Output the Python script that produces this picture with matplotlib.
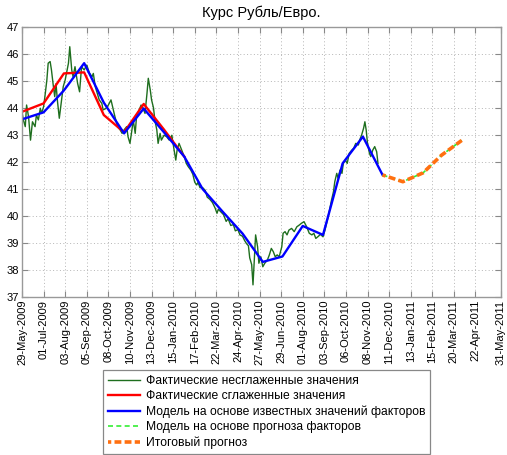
import matplotlib
matplotlib.use("Agg")
import matplotlib.pyplot as plt
import matplotlib.dates as mdates
import pandas as pd

plt.rcParams["font.family"] = ["Liberation Sans", "DejaVu Sans"]

# ---- data -----------------------------------------------------------------
start_date = "2009-05-29"
end_date = "2011-05-31"

# daily (unsmoothed) RUB/EUR rate, days counted from start_date
raw_days = [0, 2, 5, 7, 10, 13, 16, 20, 22, 25, 28, 30, 33, 35, 38, 40, 43, 45, 48, 50,
            52, 54, 57, 61, 63, 66, 68, 71, 73, 76, 78, 81, 85, 88, 91, 95, 99, 103, 107, 109,
            112, 115, 118, 122, 124, 128, 132, 136, 139, 142, 146, 150, 153, 156, 160, 162, 165, 168, 170, 173,
            175, 179, 182, 184, 188, 191, 193, 196, 198, 201, 203, 206, 208, 211, 213, 217, 221, 225, 229, 232,
            235, 237, 240, 244, 248, 251, 254, 258, 261, 264, 267, 269, 272, 276, 280, 283, 287, 291, 295, 298,
            300, 304, 308, 312, 315, 319, 323, 326, 330, 333, 337, 340, 343, 346, 348, 351, 353, 355, 357, 360,
            362, 365, 368, 371, 375, 378, 381, 384, 387, 390, 393, 397, 399, 402, 405, 408, 412, 416, 420, 424,
            427, 431, 435, 439, 443, 446, 449, 453, 456, 460, 463, 467, 470, 473, 476, 478, 481, 483, 486, 489,
            491, 494, 497, 500, 504, 507, 510, 514, 516, 519, 522, 524, 526, 528, 531, 533, 536, 539, 542, 544]
raw_values = [43.86, 43.56, 43.31, 44.11, 43.68, 42.81, 43.49, 43.31, 43.74, 43.56, 43.99, 43.80, 44.05, 44.42, 45.04, 45.66, 45.72, 45.41, 44.79, 44.42,
              44.90, 44.30, 43.62, 44.42, 44.79, 45.04, 45.29, 45.66, 46.27, 45.41, 45.16, 45.53, 44.91, 44.60, 45.53, 45.41, 45.59, 45.29, 45.16, 45.28,
              44.79, 44.54, 44.30, 44.17, 43.93, 43.98, 44.11, 44.30, 43.99, 43.68, 43.31, 43.19, 43.06, 43.19, 43.31, 42.94, 42.69, 43.19, 43.56, 43.06,
              43.68, 43.93, 44.11, 44.05, 43.80, 44.54, 45.10, 44.67, 44.30, 44.00, 43.56, 43.19, 42.69, 43.06, 42.81, 42.99, 42.94, 42.81, 42.99, 42.51,
              42.07, 42.44, 42.69, 42.44, 42.20, 41.95, 41.83, 41.70, 41.55, 41.25, 41.15, 41.25, 41.05, 41.05, 40.95, 40.70, 40.62, 40.50, 40.30, 40.10,
              40.25, 40.15, 40.05, 39.80, 39.90, 39.65, 39.68, 39.45, 39.50, 39.30, 39.25, 39.10, 38.98, 38.90, 38.45, 38.20, 37.45, 38.37, 39.30, 38.86,
              38.25, 38.49, 38.12, 38.25, 38.37, 38.56, 38.80, 38.68, 38.49, 38.56, 38.49, 38.86, 39.36, 39.42, 39.30, 39.48, 39.54, 39.42, 39.60, 39.67,
              39.73, 39.79, 39.60, 39.36, 39.30, 39.36, 39.17, 39.25, 39.32, 39.23, 39.48, 39.88, 40.22, 40.59, 40.90, 41.27, 41.58, 41.40, 41.70, 41.58,
              41.95, 42.07, 41.95, 42.32, 42.44, 42.51, 42.69, 42.63, 42.81, 43.00, 43.25, 43.49, 43.18, 42.69, 42.32, 42.20, 42.44, 42.57, 42.38, 41.95]

# monthly smoothed actual values
smooth_dates = ["2009-05-29", "2009-07-01", "2009-08-01", "2009-09-01", "2009-10-01",
                "2009-11-01", "2009-12-01", "2010-01-01", "2010-02-01"]
smooth_values = [43.86, 44.17, 45.28, 45.32, 43.74, 43.10, 44.15, 43.20, 42.20]

# model driven by known factor values
model_dates = ["2009-05-29", "2009-07-01", "2009-08-01", "2009-09-01", "2009-10-01",
               "2009-11-01", "2009-12-01", "2010-01-01", "2010-02-01", "2010-03-01",
               "2010-04-01", "2010-05-01", "2010-06-01", "2010-07-01", "2010-08-01",
               "2010-09-01", "2010-10-01", "2010-11-01", "2010-12-01"]
model_values = [43.58, 43.84, 44.65, 45.66, 44.20, 43.06, 43.98, 43.10, 42.20, 41.00,
                40.15, 39.35, 38.30, 38.50, 39.63, 39.30, 41.95, 42.94, 41.52]

# model driven by forecast factor values and the final forecast
forecast_dates = ["2010-12-01", "2011-01-01", "2011-02-01", "2011-03-01", "2011-04-01"]
factor_forecast_values = [41.52, 41.27, 41.60, 42.25, 42.80]
final_forecast_values = [41.52, 41.27, 41.60, 42.25, 42.80]

legend_labels = ["Фактические несглаженные значения",
                 "Фактические сглаженные значения",
                 "Модель на основе известных значений факторов",
                 "Модель на основе прогноза факторов",
                 "Итоговый прогноз"]

y_ticks = list(range(37, 48))

# ---- figure -----------------------------------------------------------------
W, H = 507, 455
fig = plt.figure(figsize=(W / 100, H / 100), dpi=100)
ax = fig.add_axes([22 / W, 1 - 297 / H, 479 / W, 270 / H])

t0 = pd.Timestamp(start_date)
raw_dates = [t0 + pd.Timedelta(days=d) for d in raw_days]

l1, = ax.plot(raw_dates, raw_values, color="#1e6e1e", lw=1.0)
l2, = ax.plot(pd.to_datetime(smooth_dates), smooth_values, color="#ff0000", lw=1.7)
l3, = ax.plot(pd.to_datetime(model_dates), model_values, color="#0000ff", lw=1.7)
l4, = ax.plot(pd.to_datetime(forecast_dates), factor_forecast_values, color="#33ee33",
              lw=1.2, linestyle=(0, (3, 2)))
l5, = ax.plot(pd.to_datetime(forecast_dates), final_forecast_values, color="#ff7010",
              lw=2.6, linestyle=(1, (1.9, 0.9)))

# date axis: ticks every 33 days, the last one at the end of the range
ticks = list(pd.date_range(start_date, end_date, freq="33D"))
if (pd.Timestamp(end_date) - ticks[-1]).days < 10:
    ticks = ticks[:-1]
ticks.append(pd.Timestamp(end_date))
ax.set_xticks(ticks)
ax.xaxis.set_major_formatter(mdates.DateFormatter("%d-%b-%Y"))
ax.set_xlim(pd.Timestamp(start_date), pd.Timestamp(end_date))
ax.set_ylim(37, 47)
ax.set_yticks(y_ticks)

for lab in ax.get_xticklabels():
    lab.set_rotation(90)

ax.tick_params(direction="in", top=True, right=True, length=4, width=0.8,
               color="#888888", labelsize=8, pad=2)
for sp in ax.spines.values():
    sp.set_color("#999999")
    sp.set_linewidth(1.0)

ax.grid(True, linestyle=(0, (1, 2.5)), color="#b5b5b5", linewidth=0.7)
ax.set_axisbelow(True)

fig.text(261 / W, 1 - 13 / H, "Курс Рубль/Евро.", ha="center", va="center", fontsize=10.5)

leg = fig.legend([l1, l2, l3, l4, l5], legend_labels, loc="upper left",
                 bbox_to_anchor=(103 / W, 1 - 370 / H), fontsize=8.7,
                 frameon=True, fancybox=False, framealpha=1, edgecolor="#888888",
                 handlelength=2.7, handletextpad=0.45, labelspacing=0.28,
                 borderpad=0.4, borderaxespad=0)
leg.get_frame().set_linewidth(0.9)

fig.savefig("out.png", dpi=100)
